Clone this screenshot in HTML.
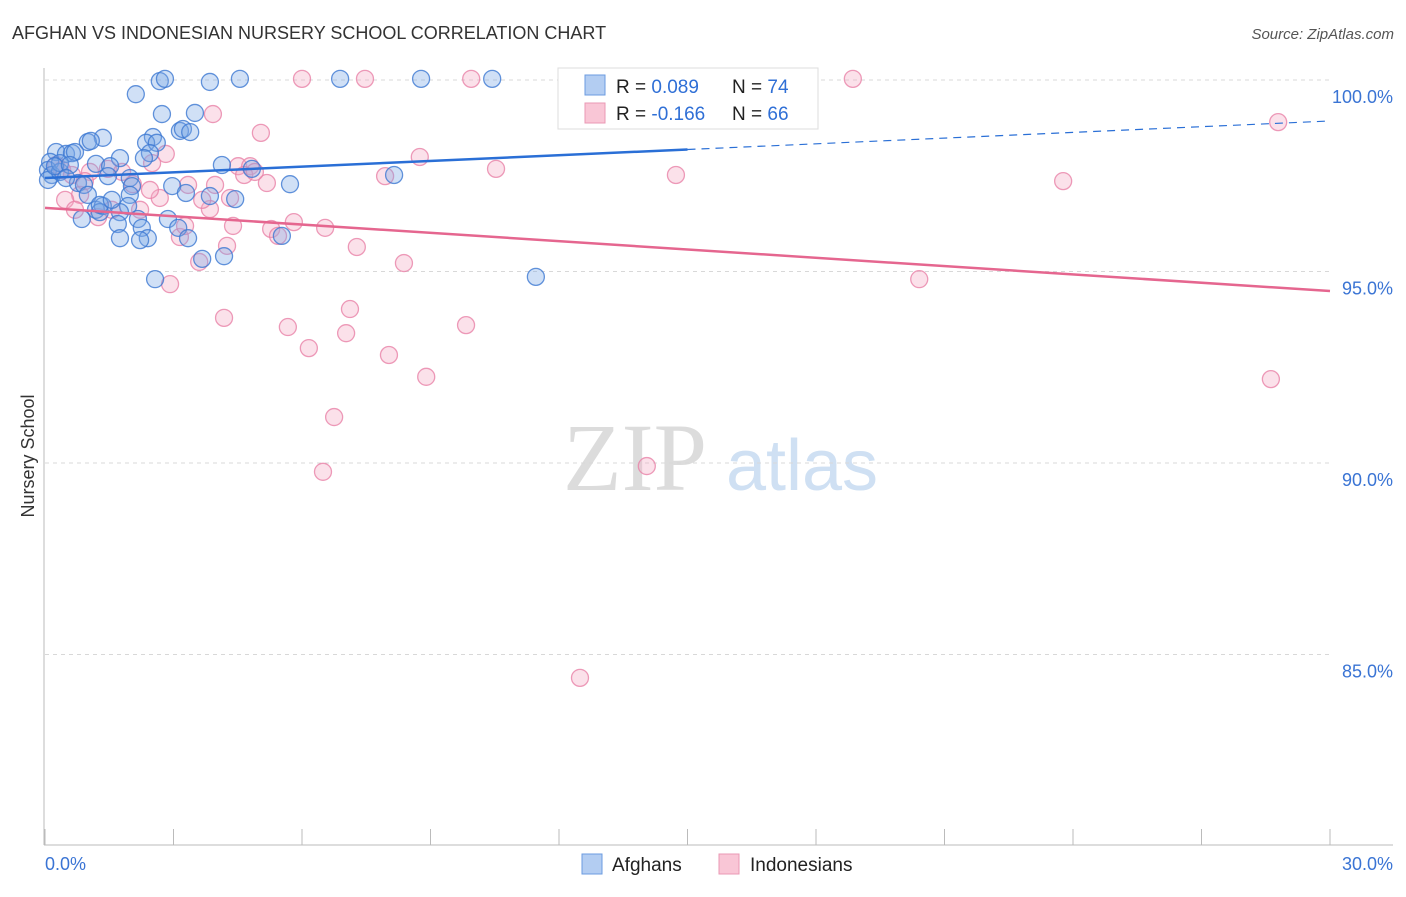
<!DOCTYPE html>
<html><head><meta charset="utf-8"><style>
body{margin:0;background:#fff;font-family:"Liberation Sans",sans-serif;}
</style></head><body>
<svg id="chart" width="1406" height="892" viewBox="0 0 1406 892" xmlns="http://www.w3.org/2000/svg">
<text x="12" y="39" font-size="18" fill="#333">AFGHAN VS INDONESIAN NURSERY SCHOOL CORRELATION CHART</text>
<text x="1394" y="39" font-size="15" fill="#555" font-style="italic" text-anchor="end">Source: ZipAtlas.com</text>
<g>
<text x="635" y="490" font-size="96" fill="#dcdcdc" font-family="Liberation Serif,serif" text-anchor="middle">ZIP</text>
<text x="802" y="490" font-size="72" fill="#cfe0f3" text-anchor="middle">atlas</text>
</g>
<g id="grid"></g>
<g id="axes"></g>
<g id="marks"></g>
<text x="34" y="456" font-size="18" fill="#333" text-anchor="middle" transform="rotate(-90 34 456)">Nursery School</text>
<g>
<rect x="558" y="68" width="260" height="61" fill="#fff" stroke="#ddd"/>
<rect x="585" y="75" width="20" height="20" fill="#b3cdf2" stroke="#6b9be0"/>
<rect x="585" y="103" width="20" height="20" fill="#f9c6d6" stroke="#ea98b4"/>
<text x="616" y="93" font-size="19" fill="#222">R = <tspan fill="#2f6fd6">0.089</tspan></text>
<text x="732" y="93" font-size="19" fill="#222">N = <tspan fill="#2f6fd6">74</tspan></text>
<text x="616" y="120" font-size="19" fill="#222">R = <tspan fill="#2f6fd6">-0.166</tspan></text>
<text x="732" y="120" font-size="19" fill="#222">N = <tspan fill="#2f6fd6">66</tspan></text>
</g>
<g>
<rect x="582" y="854" width="20" height="20" fill="#b3cdf2" stroke="#6b9be0"/>
<text x="612" y="871" font-size="19" fill="#222">Afghans</text>
<rect x="719" y="854" width="20" height="20" fill="#f9c6d6" stroke="#ea98b4"/>
<text x="750" y="871" font-size="19" fill="#222">Indonesians</text>
</g>
</svg>
<script>
const yTicks=[100,95,90,85];
const yTickLabels=["100.0%","95.0%","90.0%","85.0%"];
const xTickCount=10;
const xDomain=[0,30];
const yDomain=[80.05,100.09];
const blueX=[2.68,2.80,3.85,4.55,6.89,8.78,10.44,2.12,2.73,3.50,3.15,3.22,3.39,1.35,1.00,1.07,2.52,2.36,2.61,0.26,0.49,0.63,0.70,2.45,1.75,2.31,1.19,1.52,4.13,4.83,8.15,0.12,0.07,0.16,0.07,0.35,0.77,0.91,1.47,1.98,2.03,2.97,3.29,3.85,4.44,5.72,1.00,1.19,1.35,1.28,1.98,1.94,1.75,0.86,2.17,2.87,1.70,2.26,3.11,3.34,1.75,2.40,5.53,3.67,4.18,11.46,2.57,1.28,0.35,0.23,0.58,0.49,1.56,2.22];
const blueY=[99.97,100.03,99.95,100.03,100.03,100.03,100.03,99.63,99.11,99.14,98.67,98.72,98.64,98.49,98.38,98.41,98.51,98.36,98.36,98.12,98.07,98.09,98.12,98.09,97.96,97.96,97.81,97.75,97.78,97.68,97.52,97.86,97.65,97.52,97.39,97.60,97.31,97.26,97.49,97.44,97.23,97.23,97.05,96.97,96.89,97.28,97.00,96.61,96.71,96.55,97.00,96.71,96.55,96.37,96.37,96.37,96.24,96.14,96.14,95.87,95.87,95.87,95.93,95.33,95.40,94.86,94.80,96.74,97.83,97.75,97.78,97.44,96.87,95.82];
const pinkX=[6.00,7.47,9.95,18.86,28.79,3.92,5.04,2.82,8.75,2.50,4.51,4.79,4.65,10.53,7.94,14.73,23.77,5.18,2.05,3.34,0.26,0.40,0.63,1.05,1.47,1.80,0.82,2.68,1.24,1.56,2.22,3.85,3.67,3.15,3.27,4.39,5.28,5.81,6.54,5.44,4.25,7.28,3.60,8.38,20.41,2.92,4.18,5.67,7.12,7.03,9.83,6.16,8.03,8.90,28.62,6.75,6.49,14.05,12.49,0.47,0.70,2.45,4.32,4.90,3.97,0.93];
const pinkY=[100.03,100.03,100.03,100.03,98.90,99.11,98.62,98.07,97.99,97.83,97.75,97.75,97.52,97.68,97.49,97.52,97.36,97.31,97.28,97.26,97.78,97.65,97.52,97.60,97.68,97.60,97.00,96.92,96.42,96.61,96.61,96.63,96.87,95.90,96.19,96.19,96.11,96.29,96.14,95.93,95.67,95.64,95.25,95.22,94.80,94.67,93.79,93.55,94.02,93.39,93.60,93.00,92.82,92.25,92.19,91.20,89.77,89.92,84.39,96.87,96.61,97.13,96.92,97.60,97.26,97.36];
const blueTrend=[97.44,98.93];
const pinkTrend=[96.66,94.49];
const blueSolidEnd=15;

const L=45,R=1330,T=80,B=845;
const sx=v=>L+(v-xDomain[0])/(xDomain[1]-xDomain[0])*(R-L);
const sy=v=>80+(100-v)*38.3;
const NS="http://www.w3.org/2000/svg";
function mk(tag,attrs,parent){const e=document.createElementNS(NS,tag);for(const k in attrs)e.setAttribute(k,attrs[k]);parent.appendChild(e);return e;}
const grid=document.getElementById('grid'),axes=document.getElementById('axes'),marks=document.getElementById('marks');
yTicks.forEach((t,i)=>{
  const g=mk('line',{x1:L,x2:R,y1:sy(t),y2:sy(t),stroke:'#d8d8d8','stroke-dasharray':'4,4'},grid);
  
  
  const tx=mk('text',{x:1393,y:sy(t)+23,'font-size':18,fill:'#3a74d4','text-anchor':'end'},axes);
  tx.textContent=yTickLabels[i];
  
  
});
const ax=mk('line',{x1:44,x2:44,y1:68,y2:B,stroke:'#bbb'},axes);


const bx=mk('line',{x1:44,x2:1393,y1:B,y2:B,stroke:'#bbb'},axes);


for(let i=0;i<=xTickCount;i++){
  const v=xDomain[0]+i*(xDomain[1]-xDomain[0])/xTickCount;
  const t=mk('line',{x1:sx(v),x2:sx(v),y1:829,y2:B,stroke:'#bbb'},axes);
  
  
}
const xl0=mk('text',{x:45,y:870,'font-size':18,fill:'#3a74d4'},axes);xl0.textContent=xDomain[0].toFixed(1)+'%';


const xl1=mk('text',{x:1393,y:870,'font-size':18,fill:'#3a74d4','text-anchor':'end'},axes);xl1.textContent=xDomain[1].toFixed(1)+'%';


function dots(X,Y,fill,stroke,name){
  X.forEach((x,i)=>{
    const c=mk('circle',{cx:sx(x),cy:sy(Y[i]),r:8.5,fill:fill,stroke:stroke,'stroke-width':1.3},marks);
    
    
  });
}
dots(pinkX,pinkY,'rgba(244,168,196,0.35)','rgba(232,130,168,0.8)','indonesian-point');
dots(blueX,blueY,'rgba(120,165,230,0.35)','rgba(60,120,210,0.8)','afghan-point');
const bAt=v=>blueTrend[0]+(blueTrend[1]-blueTrend[0])*(v-xDomain[0])/(xDomain[1]-xDomain[0]);
const pAt=v=>pinkTrend[0]+(pinkTrend[1]-pinkTrend[0])*(v-xDomain[0])/(xDomain[1]-xDomain[0]);
const l1=mk('line',{x1:sx(xDomain[0]),y1:sy(bAt(xDomain[0])),x2:sx(blueSolidEnd),y2:sy(bAt(blueSolidEnd)),stroke:'#2a6fd6','stroke-width':2.5},marks);


const l2=mk('line',{x1:sx(blueSolidEnd),y1:sy(bAt(blueSolidEnd)),x2:sx(xDomain[1]),y2:sy(bAt(xDomain[1])),stroke:'#2a6fd6','stroke-width':1.2,'stroke-dasharray':'8,6'},marks);


const l3=mk('line',{x1:sx(xDomain[0]),y1:sy(pAt(xDomain[0])),x2:sx(xDomain[1]),y2:sy(pAt(xDomain[1])),stroke:'#e5668f','stroke-width':2.5},marks);


</script>
</body></html>
